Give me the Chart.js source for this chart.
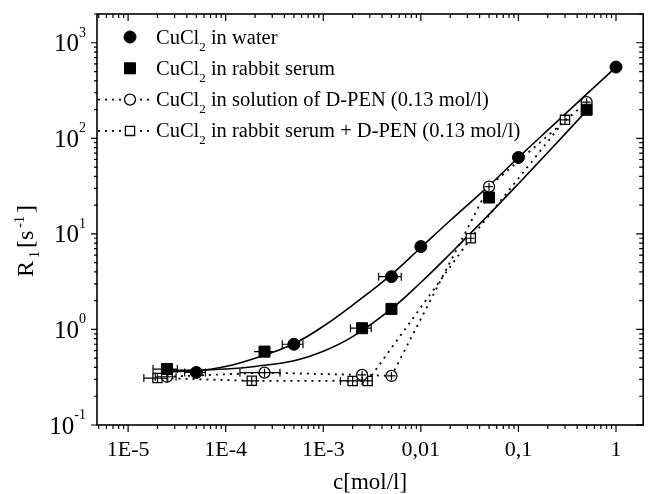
<!DOCTYPE html>
<html>
<head>
<meta charset="utf-8">
<script src="https://cdn.jsdelivr.net/npm/chart.js@4.4.1/dist/chart.umd.min.js"></script>
<style>
  html, body { margin: 0; padding: 0; background: #fff; }
  canvas { display: block; }
</style>
</head>
<body>
<canvas id="chart" width="652" height="494"></canvas>
<script>
// measured points (c in mol/l, R1 in 1/s)
const waterConc = [5e-5, 5e-4, 5e-3, 0.01, 0.1, 1];
const waterR1 = [0.355, 0.70, 3.57, 7.36, 63, 557];
const waterConcErr = [1.2e-5, 1.2e-4, 1.3e-3, 0, 0, 0];

const serumConc = [2.5e-5, 2.5e-4, 2.5e-3, 5e-3, 0.05, 0.5];
const serumR1 = [0.385, 0.586, 1.03, 1.64, 24, 199];
const serumConcErr = [0.7e-5, 0.55e-4, 0.6e-3, 0, 0, 0];

const dpenConc = [2.5e-5, 2.5e-4, 2.5e-3, 5e-3, 0.05, 0.5];
const dpenR1 = [0.32, 0.353, 0.334, 0.326, 31.3, 239];
const dpenConcErr = [0.6e-5, 1.1e-4, 0.25e-3, 0.5e-3, 0.005, 0.05];
const dpenR1Err = [0.03, 0.035, 0.033, 0.033, 3, 24];

const serumDpenConc = [2e-5, 1.85e-4, 2e-3, 2.85e-3, 0.0325, 0.3];
const serumDpenR1 = [0.31, 0.29, 0.289, 0.289, 9.0, 156];
const serumDpenConcErr = [0.55e-5, 0.35e-4, 0.5e-3, 0.3e-3, 0.003, 0.03];
const serumDpenR1Err = [0.03, 0.03, 0.03, 0.03, 0.9, 15];

// fitted curves
const waterFitConc = [2.5e-5, 5e-5, 1e-4, 2e-4, 5e-4, 1e-3, 2e-3, 5e-3, 0.01, 0.02, 0.05, 0.1, 0.2, 0.5, 1];
const waterFitR1 = [0.36, 0.37, 0.41, 0.50, 0.71, 1.08, 1.8, 3.75, 7.2, 13.8, 32, 63, 122, 290, 557];
const serumFitConc = [2.5e-5, 5e-5, 1e-4, 2e-4, 5e-4, 1e-3, 2e-3, 5e-3, 0.01, 0.02, 0.05, 0.1, 0.2, 0.5];
const serumFitR1 = [0.375, 0.375, 0.385, 0.41, 0.47, 0.59, 0.84, 1.64, 3.1, 6.2, 16, 33.5, 71, 195];

const xTickValues = [1e-5, 1e-4, 1e-3, 0.01, 0.1, 1];
const xTickLabels = ['1E-5', '1E-4', '1E-3', '0,01', '0,1', '1'];
const yTickValues = [0.1, 1, 10, 100, 1000];
const yTickExponents = ['-1', '0', '1', '2', '3'];

const FONT = 'Liberation Serif';
Chart.defaults.font.family = FONT;
Chart.defaults.color = '#000';

const toPoints = (xs, ys) => xs.map((x, i) => ({ x, y: ys[i] }));
const isDecade = v => Math.abs(Math.log10(v) - Math.round(Math.log10(v))) < 1e-6;

// all 1..9 x 10^n ticks inside the axis range
function logTicks(scale) {
  const ticks = [];
  const lo = Math.floor(Math.log10(scale.min));
  const hi = Math.ceil(Math.log10(scale.max));
  for (let e = lo; e <= hi; e++) {
    for (let m = 1; m <= 9; m++) {
      const v = m * Math.pow(10, e);
      if (v >= scale.min * 0.999 && v <= scale.max * 1.001) ticks.push({ value: v, major: m === 1 });
    }
  }
  scale.ticks = ticks;
}

// text with sub/superscript pieces: [text, size, dy]
function drawPieces(ctx, pieces, x, y, gap) {
  pieces.forEach(([t, size, dy]) => {
    ctx.font = size + 'px "' + FONT + '"';
    ctx.fillText(t, x, y + dy);
    x += ctx.measureText(t).width + (gap || 0);
  });
}
function piecesWidth(ctx, pieces, gap) {
  let w = 0;
  pieces.forEach(([t, size]) => {
    ctx.font = size + 'px "' + FONT + '"';
    w += ctx.measureText(t).width + (gap || 0);
  });
  return w - (gap || 0);
}

function drawMarker(ctx, ds, x, y) {
  const r = ds.pointRadius;
  ctx.beginPath();
  if (ds.pointStyle === 'rect') {
    const s = Math.SQRT1_2 * r;
    ctx.rect(x - s, y - s, 2 * s, 2 * s);
  } else {
    ctx.arc(x, y, r, 0, Math.PI * 2);
  }
  ctx.fillStyle = ds.pointBackgroundColor;
  ctx.fill();
  ctx.lineWidth = ds.pointBorderWidth;
  ctx.strokeStyle = ds.pointBorderColor;
  ctx.stroke();
}

const errorBars = {
  id: 'errorBars',
  afterDatasetsDraw(chart) {
    const { ctx, chartArea: a, scales: { x, y } } = chart;
    ctx.save();
    ctx.beginPath();
    ctx.rect(a.left, a.top, a.right - a.left, a.bottom - a.top);
    ctx.clip();
    ctx.strokeStyle = '#000';
    ctx.lineWidth = 1.2;
    chart.data.datasets.forEach(ds => {
      if (!ds.errX && !ds.errY) return;
      ds.data.forEach((p, i) => {
        const px = x.getPixelForValue(p.x);
        const py = y.getPixelForValue(p.y);
        const ex = ds.errX ? ds.errX[i] : 0;
        const ey = ds.errY ? ds.errY[i] : 0;
        ctx.beginPath();
        if (ex > 0) {
          const l = x.getPixelForValue(p.x - ex);
          const r = x.getPixelForValue(p.x + ex);
          ctx.moveTo(l, py); ctx.lineTo(r, py);
          if (r - px > ds.pointRadius + 1) {
            ctx.moveTo(l, py - 4); ctx.lineTo(l, py + 4);
            ctx.moveTo(r, py - 4); ctx.lineTo(r, py + 4);
          }
        }
        if (ey > 0) {
          ctx.moveTo(px, y.getPixelForValue(p.y - ey));
          ctx.lineTo(px, y.getPixelForValue(p.y + ey));
        }
        ctx.stroke();
      });
    });
    ctx.restore();
  }
};

const frame = {
  id: 'frame',
  afterDraw(chart) {
    const { ctx, chartArea: a, scales: { x, y } } = chart;
    ctx.save();
    ctx.strokeStyle = '#000';
    ctx.fillStyle = '#000';
    ctx.lineWidth = 1.6;
    ctx.strokeRect(a.left, a.top, a.right - a.left, a.bottom - a.top);

    ctx.lineWidth = 1.2;
    ctx.beginPath();
    x.ticks.forEach(t => {
      const px = x.getPixelForValue(t.value);
      const len = isDecade(t.value) ? 7 : 4;
      ctx.moveTo(px, a.bottom); ctx.lineTo(px, a.bottom + len);
      ctx.moveTo(px, a.top); ctx.lineTo(px, a.top + len);
    });
    y.ticks.forEach(t => {
      const py = y.getPixelForValue(t.value);
      const major = isDecade(t.value);
      ctx.moveTo(a.left, py); ctx.lineTo(a.left - (major ? 6 : 3), py);
      ctx.moveTo(a.right, py); ctx.lineTo(a.right - (major ? 7 : 4), py);
    });
    ctx.stroke();

    // y tick labels 10^n
    ctx.textAlign = 'left';
    ctx.textBaseline = 'alphabetic';
    yTickValues.forEach((v, i) => {
      const py = y.getPixelForValue(v);
      const pieces = [['10', 25, 8.5], [yTickExponents[i], 14, -6]];
      const w = piecesWidth(ctx, pieces);
      drawPieces(ctx, pieces, 86 - w, py);
    });

    // y title R1[s-1]
    const title = [['R', 24, 0], ['1', 14, 6], ['[s', 24, 0], ['-1', 14, -9], [']', 24, 0]];
    ctx.save();
    ctx.translate(33, 241);
    ctx.rotate(-Math.PI / 2);
    const tw = piecesWidth(ctx, title, 3);
    drawPieces(ctx, title, -tw / 2, 0, 3);
    ctx.restore();

    // legend
    chart.data.datasets.slice(0, 4).forEach((ds, i) => {
      const ry = 37 + i * 31.3;
      if (ds.showLine) {
        ctx.save();
        ctx.lineWidth = ds.borderWidth;
        ctx.setLineDash(ds.borderDash);
        ctx.beginPath();
        ctx.moveTo(a.left + 1, ry); ctx.lineTo(152, ry);
        ctx.stroke();
        ctx.restore();
      }
      drawMarker(ctx, ds, 130, ry);
      const [head, tail] = ds.label.split('₂');
      ctx.fillStyle = '#000';
      drawPieces(ctx, [[head, 20.5, 6.5], ['2', 13, 13.5], [tail, 20.5, 6.5]], 156, ry);
    });
    ctx.restore();
  }
};

const ctx = document.getElementById('chart').getContext('2d');
new Chart(ctx, {
  type: 'scatter',
  data: {
    datasets: [
      {
        label: 'CuCl₂ in water',
        data: toPoints(waterConc, waterR1),
        errX: waterConcErr,
        showLine: false,
        pointStyle: 'circle', pointRadius: 6,
        pointBackgroundColor: '#000', pointBorderColor: '#000', pointBorderWidth: 1
      },
      {
        label: 'CuCl₂ in rabbit serum',
        data: toPoints(serumConc, serumR1),
        errX: serumConcErr,
        showLine: false,
        pointStyle: 'rect', pointRadius: 7.8,
        pointBackgroundColor: '#000', pointBorderColor: '#000', pointBorderWidth: 1
      },
      {
        label: 'CuCl₂ in solution of D-PEN (0.13 mol/l)',
        data: toPoints(dpenConc, dpenR1),
        errX: dpenConcErr, errY: dpenR1Err,
        showLine: true, borderColor: '#000', borderWidth: 1.8, borderDash: [2, 5],
        pointStyle: 'circle', pointRadius: 5.5,
        pointBackgroundColor: '#fff', pointBorderColor: '#000', pointBorderWidth: 1.3
      },
      {
        label: 'CuCl₂ in rabbit serum + D-PEN (0.13 mol/l)',
        data: toPoints(serumDpenConc, serumDpenR1),
        errX: serumDpenConcErr, errY: serumDpenR1Err,
        showLine: true, borderColor: '#000', borderWidth: 1.8, borderDash: [2, 5],
        pointStyle: 'rect', pointRadius: 6.5,
        pointBackgroundColor: '#fff', pointBorderColor: '#000', pointBorderWidth: 1.3
      },
      {
        label: 'fit water',
        data: toPoints(waterFitConc, waterFitR1),
        showLine: true, borderColor: '#000', borderWidth: 1.6,
        tension: 0.4, pointRadius: 0
      },
      {
        label: 'fit serum',
        data: toPoints(serumFitConc, serumFitR1),
        showLine: true, borderColor: '#000', borderWidth: 1.6,
        tension: 0.4, pointRadius: 0
      }
    ]
  },
  options: {
    responsive: false,
    animation: false,
    devicePixelRatio: 1,
    layout: { padding: { top: 14, right: 3, left: 0, bottom: 0 } },
    plugins: { legend: { display: false }, tooltip: { enabled: false } },
    scales: {
      x: {
        type: 'logarithmic',
        min: 4.8e-6,
        max: 1.9,
        afterBuildTicks: logTicks,
        afterFit(scale) { scale.height = 69; },
        grid: { display: false, drawTicks: false },
        border: { display: false },
        ticks: {
          autoSkip: false, maxRotation: 0, padding: 12,
          font: { size: 22 },
          callback(value) {
            const i = xTickValues.findIndex(v => Math.abs(v - value) / v < 1e-6);
            return i >= 0 ? xTickLabels[i] : '';
          }
        },
        title: {
          display: true, text: 'c[mol/l]',
          font: { size: 23, lineHeight: 1 },
          padding: { top: 0, bottom: 0 }
        }
      },
      y: {
        type: 'logarithmic',
        min: 0.1,
        max: 2000,
        afterBuildTicks: logTicks,
        afterFit(scale) { scale.width = 97; },
        grid: { display: false, drawTicks: false },
        border: { display: false },
        ticks: { display: false }
      }
    }
  },
  plugins: [errorBars, frame]
});
</script>
</body>
</html>
